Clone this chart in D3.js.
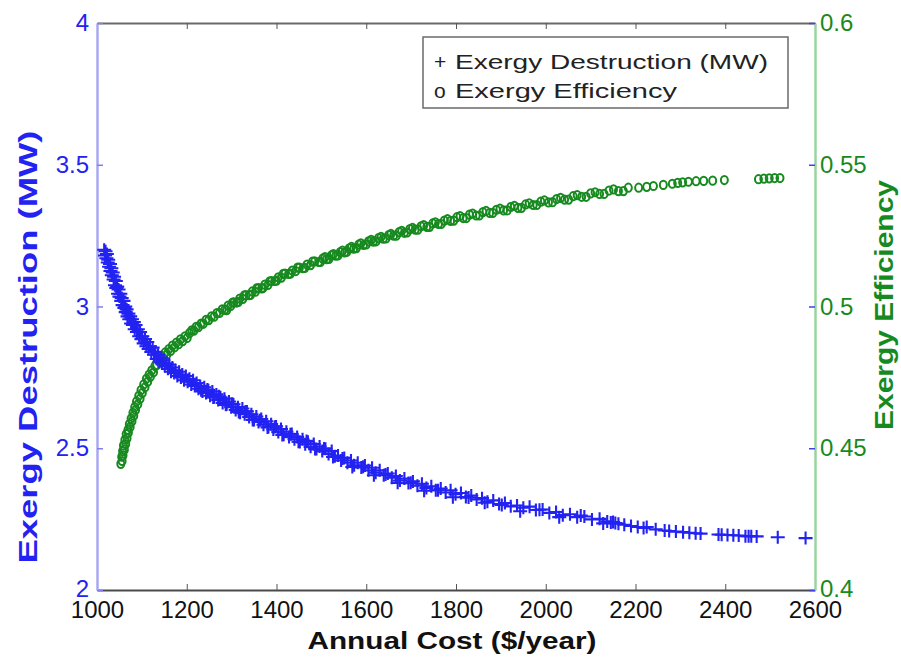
<!DOCTYPE html>
<html>
<head>
<meta charset="utf-8">
<script src="https://cdn.jsdelivr.net/npm/d3@7"></script>
<style>
  body { margin: 0; background: #fff; }
  text { font-family: "Liberation Sans", Arial, sans-serif; }
</style>
</head>
<body>
<svg width="901" height="662"></svg>
<script>
// exergy destruction (MW) vs annual cost
const costD = [1016, 1018, 1019, 1021, 1022, 1024, 1025, 1027, 1029, 1030, 1032, 1033, 1035, 1037, 1038, 1040, 1042, 1043, 1045, 1047,
  1048, 1050, 1052, 1054, 1055, 1057, 1059, 1061, 1063, 1064, 1066, 1068, 1070, 1072, 1074, 1076, 1078, 1080, 1082, 1084,
  1086, 1089, 1091, 1094, 1096, 1099, 1101, 1104, 1107, 1110, 1112, 1115, 1118, 1121, 1124, 1127, 1130, 1133, 1136, 1139,
  1142, 1145, 1148, 1151, 1155, 1158, 1161, 1165, 1168, 1172, 1175, 1179, 1183, 1187, 1190, 1194, 1198, 1202, 1206, 1210,
  1214, 1218, 1222, 1226, 1230, 1235, 1239, 1243, 1248, 1252, 1257, 1261, 1266, 1270, 1275, 1280, 1284, 1289, 1294, 1299,
  1304, 1309, 1314, 1319, 1324, 1329, 1334, 1339, 1344, 1350, 1355, 1360, 1366, 1371, 1377, 1382, 1388, 1393, 1399, 1404,
  1410, 1416, 1422, 1428, 1434, 1440, 1446, 1452, 1458, 1464, 1470, 1476, 1483, 1489, 1496, 1502, 1509, 1516, 1523, 1530,
  1537, 1544, 1551, 1558, 1566, 1573, 1581, 1589, 1597, 1605, 1613, 1621, 1630, 1639, 1648, 1657, 1666, 1675, 1685, 1694,
  1704, 1714, 1724, 1734, 1745, 1755, 1766, 1777, 1788, 1799, 1811, 1822, 1834, 1846, 1858, 1870, 1883, 1896, 1909, 1922,
  1936, 1950, 1964, 1978, 1993, 2008, 2023, 2038, 2054, 2070, 2086, 2103, 2120, 2137, 2145, 2150, 2155, 2162, 2175, 2190,
  2205, 2218, 2225, 2245, 2265, 2275, 2290, 2306, 2320, 2334, 2345, 2385, 2392, 2405, 2418, 2430, 2445, 2452, 2458, 2470,
  2517, 2579,
  1232, 1246, 1259, 1272, 1287, 1301, 1316, 1331, 1347, 1363, 1380, 1396, 1413, 1431, 1449, 1467, 1486, 1506, 1526, 1547,
  1569, 1593, 1617, 1643, 1670, 1699, 1729, 1760, 1793, 1828, 1864, 1902, 1943, 1986, 2030, 2078, 2128];
const destruction = [3.20, 3.18, 3.195, 3.17, 3.185, 3.155, 3.165, 3.14, 3.15, 3.125, 3.135, 3.11, 3.12, 3.095, 3.105, 3.075, 3.09, 3.065, 3.07, 3.045,
  3.06, 3.035, 3.045, 3.02, 3.03, 3.005, 3.02, 2.995, 3.00, 2.98, 2.99, 2.965, 2.975, 2.955, 2.965, 2.94, 2.955, 2.935, 2.945, 2.92,
  2.935, 2.91, 2.92, 2.895, 2.91, 2.885, 2.895, 2.87, 2.885, 2.86, 2.875, 2.85, 2.86, 2.84, 2.855, 2.83, 2.84, 2.815, 2.83, 2.805,
  2.82, 2.80, 2.81, 2.79, 2.80, 2.78, 2.795, 2.77, 2.785, 2.765, 2.775, 2.755, 2.77, 2.75, 2.76, 2.74, 2.755, 2.735, 2.745, 2.725,
  2.74, 2.72, 2.73, 2.71, 2.72, 2.70, 2.715, 2.695, 2.705, 2.685, 2.70, 2.68, 2.69, 2.67, 2.68, 2.66, 2.675, 2.655, 2.665, 2.645,
  2.655, 2.635, 2.645, 2.625, 2.64, 2.62, 2.63, 2.61, 2.62, 2.60, 2.612, 2.593, 2.603, 2.583, 2.595, 2.575, 2.585, 2.566, 2.577, 2.557,
  2.568, 2.548, 2.558, 2.54, 2.55, 2.532, 2.54, 2.522, 2.532, 2.514, 2.523, 2.505, 2.515, 2.497, 2.506, 2.49, 2.498, 2.48, 2.49, 2.472,
  2.474, 2.457, 2.466, 2.449, 2.457, 2.44, 2.449, 2.432, 2.439, 2.422, 2.431, 2.414, 2.422, 2.405, 2.411, 2.396, 2.402, 2.386, 2.393, 2.377,
  2.383, 2.368, 2.375, 2.36, 2.366, 2.352, 2.358, 2.344, 2.352, 2.338, 2.342, 2.328, 2.333, 2.319, 2.324, 2.311, 2.316, 2.303, 2.307, 2.295,
  2.298, 2.290, 2.294, 2.282, 2.284, 2.272, 2.275, 2.264, 2.267, 2.257, 2.259, 2.249, 2.251, 2.242, 2.238, 2.24, 2.236, 2.234, 2.23, 2.226,
  2.222, 2.219, 2.222, 2.214, 2.21, 2.208, 2.206, 2.204, 2.202, 2.20, 2.199, 2.196, 2.195, 2.194, 2.193, 2.192, 2.19, 2.19, 2.19, 2.189,
  2.186, 2.183,
  2.705, 2.707, 2.679, 2.683, 2.653, 2.657, 2.628, 2.630, 2.600, 2.599, 2.573, 2.576, 2.547, 2.549, 2.523, 2.526, 2.497, 2.499, 2.469, 2.464,
  2.434, 2.435, 2.405, 2.407, 2.378, 2.378, 2.35, 2.352, 2.327, 2.326, 2.308, 2.30, 2.278, 2.283, 2.257, 2.263, 2.235];

// exergy efficiency vs annual cost
const costE = [1053, 1055, 1056, 1057, 1058, 1059, 1061, 1062, 1064, 1065, 1067, 1069, 1070, 1072, 1074, 1076, 1078, 1080, 1082, 1084,
  1086, 1088, 1091, 1093, 1096, 1098, 1101, 1104, 1107, 1110, 1113, 1116, 1119, 1122, 1126, 1129, 1133, 1136, 1140, 1144,
  1148, 1152, 1156, 1160, 1164, 1168, 1173, 1177, 1182, 1186, 1191, 1196, 1201, 1206, 1211, 1216, 1221, 1226, 1232, 1237,
  1243, 1249, 1255, 1261, 1267, 1273, 1279, 1285, 1292, 1298, 1305, 1311, 1318, 1325, 1332, 1339, 1346, 1353, 1360, 1367,
  1374, 1381, 1389, 1396, 1404, 1411, 1419, 1427, 1435, 1443, 1451, 1459, 1468, 1476, 1485, 1494, 1503, 1512, 1522, 1532,
  1542, 1552, 1562, 1572, 1583, 1594, 1605, 1616, 1627, 1638, 1650, 1661, 1673, 1685, 1697, 1709, 1722, 1735, 1748, 1761,
  1774, 1788, 1802, 1816, 1830, 1845, 1860, 1875, 1890, 1906, 1922, 1938, 1955, 1972, 1989, 2006, 2024, 2042, 2061, 2080,
  2100, 2120, 2141, 2162, 2184, 2207, 2225, 2240, 2262, 2282, 2294, 2305, 2318, 2335, 2352, 2372, 2398, 2474, 2486, 2498,
  2510, 2522,
  1289, 1302, 1315, 1328, 1342, 1356, 1370, 1385, 1400, 1415, 1431, 1447, 1463, 1480, 1498, 1508, 1517, 1527, 1537, 1547,
  1557, 1567, 1578, 1588, 1600, 1611, 1622, 1633, 1644, 1655, 1667, 1679, 1691, 1703, 1715, 1728, 1741, 1754, 1767, 1781,
  1795, 1809, 1823, 1837, 1852, 1867, 1882, 1898, 1914, 1930, 1946, 1963, 1980, 1997, 2015, 2033, 2051, 2070, 2090, 2110,
  2130, 2151, 2173];
const efficiency = [0.4445, 0.447, 0.4455, 0.449, 0.4475, 0.451, 0.4495, 0.453, 0.4515, 0.455, 0.4535, 0.4565, 0.4555, 0.4585, 0.4575, 0.4605, 0.4595, 0.4625, 0.4615, 0.4645,
  0.4635, 0.4665, 0.4655, 0.4685, 0.4675, 0.4705, 0.4695, 0.4725, 0.4715, 0.4745, 0.4735, 0.476, 0.4752, 0.4775, 0.4768, 0.479, 0.4793, 0.4812, 0.4805, 0.4825,
  0.4818, 0.4838, 0.4831, 0.485, 0.4843, 0.4862, 0.4856, 0.4873, 0.4867, 0.4884, 0.4878, 0.4895, 0.4889, 0.4906, 0.4916, 0.4915, 0.4928, 0.4927, 0.494, 0.4939,
  0.4953, 0.4952, 0.4965, 0.4964, 0.4977, 0.4977, 0.499, 0.4989, 0.5003, 0.5002, 0.5015, 0.5014, 0.5028, 0.5027, 0.504, 0.504, 0.5053, 0.5052, 0.5065, 0.5064,
  0.5077, 0.5076, 0.509, 0.509, 0.5103, 0.5102, 0.5116, 0.5115, 0.5127, 0.5125, 0.5137, 0.5135, 0.5148, 0.5146, 0.5159, 0.5157, 0.5169, 0.5167, 0.518, 0.5179,
  0.5192, 0.5191, 0.5205, 0.5204, 0.5218, 0.5217, 0.523, 0.5229, 0.5241, 0.5239, 0.5252, 0.525, 0.5262, 0.526, 0.5273, 0.5271, 0.5283, 0.5281, 0.5293, 0.5291,
  0.5303, 0.5302, 0.5315, 0.5312, 0.5324, 0.5321, 0.5333, 0.533, 0.5341, 0.5339, 0.5351, 0.5348, 0.536, 0.5358, 0.537, 0.5367, 0.5379, 0.5377, 0.5389, 0.5387,
  0.5399, 0.5397, 0.5409, 0.5407, 0.5419, 0.5419, 0.5422, 0.5425, 0.5429, 0.5433, 0.5436, 0.5438, 0.544, 0.5442, 0.5443, 0.5444, 0.5446, 0.5449, 0.5451, 0.5452,
  0.5453, 0.5453,
  0.4987, 0.5014, 0.5016, 0.5039, 0.5041, 0.5064, 0.5065, 0.5089, 0.5091, 0.5115, 0.5116, 0.5137, 0.5136, 0.5158, 0.5157, 0.5174, 0.5168, 0.5185, 0.518, 0.5197,
  0.5193, 0.521, 0.5206, 0.5223, 0.5219, 0.5235, 0.523, 0.5246, 0.524, 0.5256, 0.525, 0.5267, 0.5261, 0.5277, 0.5271, 0.5287, 0.5281, 0.5297, 0.5291, 0.5308,
  0.5303, 0.5319, 0.5312, 0.5328, 0.5321, 0.5337, 0.533, 0.5345, 0.5339, 0.5355, 0.5348, 0.5364, 0.5358, 0.5374, 0.5368, 0.5383, 0.5377, 0.5393, 0.5387, 0.5403,
  0.5397, 0.5413, 0.5407];

const xTicks = [1000, 1200, 1400, 1600, 1800, 2000, 2200, 2400, 2600];
const leftTicks = [2, 2.5, 3, 3.5, 4];
const rightTicks = [0.4, 0.45, 0.5, 0.55, 0.6];

const svg = d3.select('svg');

const mLeft = 97, mRight = 815, mTop = 23, mBottom = 590;
const blue = '#2222f2', green = '#178a1f';

const x = d3.scaleLinear().domain([1000, 2600]).range([mLeft, mRight]);
const yL = d3.scaleLinear().domain([2, 4]).range([mBottom, mTop]);
const yR = d3.scaleLinear().domain([0.4, 0.6]).range([mBottom, mTop]);

// axes
const gx = svg.append('g')
  .attr('transform', `translate(0,${mBottom})`)
  .call(d3.axisBottom(x).tickValues(xTicks).tickFormat(d => d).tickSize(-6).tickSizeOuter(0).tickPadding(11));
gx.select('.domain').attr('stroke', '#4a4a4a').attr('stroke-width', 2);
gx.selectAll('.tick line').attr('stroke', '#555');
gx.selectAll('text').attr('font-size', 24).attr('fill', '#111').attr('font-family', '"Liberation Sans", Arial, sans-serif');

const gt = svg.append('g')
  .attr('transform', `translate(0,${mTop})`)
  .call(d3.axisTop(x).tickValues(xTicks).tickFormat('').tickSize(-6).tickSizeOuter(0));
gt.select('.domain').attr('stroke', '#6a6a6a').attr('stroke-width', 2);
gt.selectAll('.tick line').attr('stroke', '#555');

const gl = svg.append('g')
  .attr('transform', `translate(${mLeft},0)`)
  .call(d3.axisLeft(yL).tickValues(leftTicks).tickFormat(d => d).tickSize(-6).tickSizeOuter(0).tickPadding(8));
gl.select('.domain').attr('stroke', '#a8a8f2').attr('stroke-width', 2.5);
gl.selectAll('.tick line').attr('stroke', '#8080f0').attr('stroke-width', 1.5);
gl.selectAll('text').attr('font-size', 24).attr('fill', blue).attr('font-family', '"Liberation Sans", Arial, sans-serif');
gl.selectAll('.tick').filter(d => d === 2).select('text').attr('dy', '0.25em');

const gr = svg.append('g')
  .attr('transform', `translate(${mRight},0)`)
  .call(d3.axisRight(yR).tickValues(rightTicks).tickFormat(d => d).tickSize(0).tickSizeOuter(0).tickPadding(5));
gr.select('.domain').attr('stroke', '#98d49c').attr('stroke-width', 2.5);
gr.selectAll('text').attr('font-size', 24).attr('fill', green).attr('font-family', '"Liberation Sans", Arial, sans-serif');
gr.selectAll('.tick').filter(d => d === 0.4).select('text').attr('dy', '0.25em');

// left-axis ticks mirrored on the right side
svg.append('g')
  .attr('transform', `translate(${mRight},0)`)
  .call(d3.axisRight(yL).tickValues(leftTicks).tickFormat('').tickSize(-6).tickSizeOuter(0))
  .call(g => g.select('.domain').remove())
  .selectAll('.tick line').attr('stroke', '#4040f0').attr('stroke-width', 1.5);

// efficiency markers
svg.append('g').selectAll('ellipse')
  .data(costE.map((c, i) => [c, efficiency[i]]))
  .join('ellipse')
  .attr('cx', d => x(d[0]))
  .attr('cy', d => yR(d[1]))
  .attr('rx', 3.5)
  .attr('ry', 4.1)
  .attr('fill', 'none')
  .attr('stroke', green)
  .attr('stroke-width', 2);

// destruction markers
svg.append('g').selectAll('path')
  .data(costD.map((c, i) => [c, destruction[i]]))
  .join('path')
  .attr('transform', d => `translate(${x(d[0])},${yL(d[1])})`)
  .attr('d', 'M-7,0H7M0,-6.5V6.5')
  .attr('stroke', blue)
  .attr('stroke-width', 2.1);

// legend
svg.append('rect')
  .attr('x', 423).attr('y', 37).attr('width', 365).attr('height', 71)
  .attr('fill', '#fff').attr('stroke', '#6a6a6a').attr('stroke-width', 1.5);

const legend = [['+', 'Exergy Destruction (MW)', 313], ['o', 'Exergy Efficiency', 222]];
legend.forEach((l, i) => {
  svg.append('text').attr('x', 434).attr('y', 69 + i * 29).attr('font-size', 21).attr('fill', '#222').text(l[0]);
  svg.append('text').attr('x', 455).attr('y', 69 + i * 29).attr('font-size', 21).attr('fill', '#222')
    .attr('textLength', l[2]).attr('lengthAdjust', 'spacingAndGlyphs').text(l[1]);
});

// axis titles
svg.append('text')
  .attr('x', 452).attr('y', 649)
  .attr('text-anchor', 'middle')
  .attr('font-size', 23).attr('font-weight', 'bold').attr('fill', '#111')
  .attr('textLength', 289).attr('lengthAdjust', 'spacingAndGlyphs')
  .text('Annual Cost ($/year)');

svg.append('text')
  .attr('transform', 'translate(37,347) rotate(-90)')
  .attr('text-anchor', 'middle')
  .attr('font-size', 25).attr('font-weight', 'bold').attr('fill', blue)
  .attr('textLength', 433).attr('lengthAdjust', 'spacingAndGlyphs')
  .text('Exergy Destruction (MW)');

svg.append('text')
  .attr('transform', 'translate(893,305) rotate(-90)')
  .attr('text-anchor', 'middle')
  .attr('font-size', 25).attr('font-weight', 'bold').attr('fill', green)
  .attr('textLength', 250).attr('lengthAdjust', 'spacingAndGlyphs')
  .text('Exergy Efficiency');
</script>
</body>
</html>
